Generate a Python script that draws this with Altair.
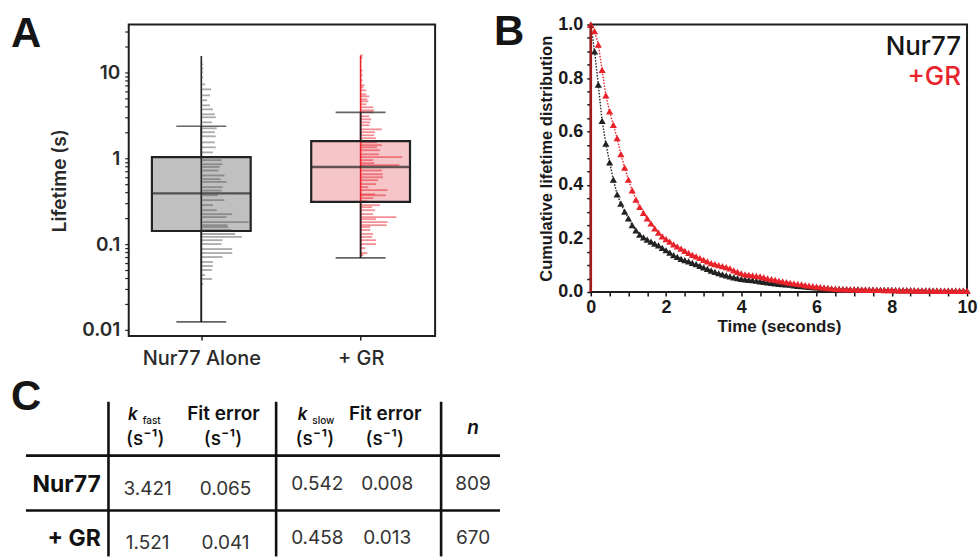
import altair as alt
import pandas as pd

# ---------------- Panel A data (lifetimes, log scale) ----------------
groups = ['Nur77 Alone', '+ GR']
group_pos = [1, 2]
q1 = [0.142, 0.31]
median = [0.39, 0.79]
q3 = [1.03, 1.58]
whisker_lo = [0.0124, 0.069]
whisker_hi = [2.36, 3.42]
data_max = [15.5, 15.8]

nur77_bins = [14.9, 13.8, 12.4, 11.1, 10.0, 8.75, 7.25, 6.35, 5.40, 4.73,
              4.13, 3.71, 3.25, 3.00, 2.62, 2.23, 2.01, 1.80, 1.53, 1.34,
              1.17, 1.03, 0.95, 0.85, 0.79, 0.72, 0.63, 0.57, 0.53, 0.46,
              0.42, 0.37, 0.325, 0.284, 0.248, 0.223, 0.206, 0.180, 0.166, 0.158,
              0.146, 0.131, 0.121, 0.111, 0.100, 0.0875, 0.0786, 0.0706, 0.0618, 0.0555,
              0.0499, 0.0436, 0.0392, 0.0343]
nur77_hist = [1, 1, 2, 2, 2, 2, 4, 10, 9, 6,
              9, 12, 14, 15, 11, 16, 14, 15, 14, 15,
              12, 18, 21, 22, 19, 18, 24, 20, 26, 22,
              21, 17, 24, 12, 16, 32, 26, 49, 27, 28,
              31, 35, 42, 22, 21, 32, 32, 22, 12, 12,
              11, 4, 11, 2]
gr_bins = [15.8, 14.9, 10.5, 9.23, 8.07, 7.06, 6.69, 6.18, 5.55, 5.26,
           4.85, 4.60, 4.25, 3.92, 3.61, 3.43, 3.08, 2.84, 2.62, 2.42,
           2.17, 2.01, 1.85, 1.71, 1.53, 1.42, 1.34, 1.24, 1.11, 1.03,
           0.95, 0.875, 0.83, 0.72, 0.65, 0.60, 0.555, 0.50, 0.46, 0.425,
           0.38, 0.37, 0.343, 0.316, 0.284, 0.269, 0.248, 0.223, 0.206, 0.195,
           0.180, 0.166, 0.158, 0.146, 0.131, 0.121, 0.111, 0.100, 0.0898, 0.0786,
           0.0745]
gr_hist = [2, 2, 2, 2, 2, 4, 3, 6, 6, 9,
           7, 8, 6, 13, 14, 13, 9, 11, 10, 9,
           22, 15, 14, 16, 17, 22, 17, 20, 19, 43,
           13, 14, 40, 22, 23, 23, 18, 16, 8, 28,
           15, 26, 13, 7, 20, 12, 15, 13, 37, 16,
           28, 27, 10, 10, 13, 12, 16, 16, 5, 7,
           3]
a_ticks = [0.01, 0.1, 1, 10]
a_tick_labels = ['0.01', '0.1', '1', '10']

# ---------------- Panel B data (cumulative lifetime distribution) ----------------
times = [round(0.1 * i, 1) for i in range(101)]
nur77_cdf = [1.000, 0.900, 0.775, 0.640, 0.555, 0.485, 0.420, 0.365, 0.330, 0.300,
             0.275, 0.250, 0.230, 0.214, 0.204, 0.196, 0.188, 0.181, 0.174, 0.165,
             0.156, 0.147, 0.138, 0.131, 0.124, 0.119, 0.114, 0.109, 0.104, 0.098,
             0.092, 0.086, 0.080, 0.075, 0.070, 0.066, 0.062, 0.058, 0.055, 0.052,
             0.049, 0.047, 0.045, 0.044, 0.042, 0.040, 0.038, 0.036, 0.034, 0.032,
             0.030, 0.029, 0.028, 0.027, 0.025, 0.023, 0.022, 0.021, 0.019, 0.018,
             0.017, 0.016, 0.015, 0.014, 0.013, 0.012, 0.012, 0.011, 0.011, 0.010,
             0.010, 0.010, 0.009, 0.009, 0.009, 0.009, 0.008, 0.008, 0.008, 0.008,
             0.008, 0.007, 0.007, 0.007, 0.007, 0.007, 0.006, 0.006, 0.006, 0.006,
             0.006, 0.005, 0.005, 0.005, 0.005, 0.005, 0.005, 0.005, 0.005, 0.005,
             0.005]
gr_cdf = [1.000, 0.975, 0.925, 0.830, 0.735, 0.675, 0.625, 0.575, 0.515, 0.465,
          0.420, 0.380, 0.345, 0.318, 0.296, 0.275, 0.256, 0.238, 0.222, 0.208,
          0.198, 0.188, 0.178, 0.170, 0.162, 0.154, 0.146, 0.139, 0.133, 0.127,
          0.120, 0.114, 0.108, 0.104, 0.100, 0.097, 0.093, 0.088, 0.081, 0.075,
          0.070, 0.066, 0.064, 0.062, 0.060, 0.058, 0.055, 0.051, 0.048, 0.045,
          0.042, 0.040, 0.037, 0.034, 0.032, 0.030, 0.028, 0.026, 0.024, 0.022,
          0.020, 0.018, 0.016, 0.014, 0.013, 0.012, 0.011, 0.011, 0.010, 0.010,
          0.010, 0.009, 0.009, 0.009, 0.008, 0.008, 0.008, 0.008, 0.007, 0.007,
          0.007, 0.007, 0.006, 0.006, 0.006, 0.006, 0.006, 0.005, 0.005, 0.005,
          0.005, 0.005, 0.005, 0.004, 0.004, 0.004, 0.004, 0.004, 0.004, 0.004,
          0.004]
series_names = ['Nur77', '+GR']

# ---------------- Panel C data (fit table) ----------------
row_labels = ['Nur77', '+ GR']
k_fast = ['3.421', '1.521']
k_fast_err = ['0.065', '0.041']
k_slow = ['0.542', '0.458']
k_slow_err = ['0.008', '0.013']
n_obs = ['809', '670']
hdr_k = ['k', 'k']
hdr_sub = ['fast', 'slow']
hdr_fit = ['Fit error', 'Fit error']
hdr_unit = '(s\u207b\u00b9)'
hdr_n = 'n'
panel_letters = ['A', 'B', 'C']

# ---------------- styles ----------------
DARK = '#222222'
RED = '#e8232b'
GRAY_FILL = '#c0c0c0'
PINK_FILL = '#f5c5c8'
HIST_COLORS = ['#555555', '#e8202a']
LINE_COLORS = [DARK, RED]
FILLS = [GRAY_FILL, PINK_FILL]
BAR_UNIT = 1.0 / 165.0
LETTER = dict(font='Liberation Sans', fontSize=42, fontWeight='bold', color='#151515',
              align='left', baseline='top')

# ================= Panel A =================
boxdf = pd.DataFrame({'group': groups, 'pos': group_pos, 'q1': q1, 'med': median,
                      'q3': q3, 'lo': whisker_lo, 'hi': whisker_hi, 'mx': data_max,
                      'fill': FILLS, 'line': LINE_COLORS})
hist = pd.concat([
    pd.DataFrame({'pos': group_pos[0], 'bin': nur77_bins, 'len': nur77_hist, 'col': HIST_COLORS[0]}),
    pd.DataFrame({'pos': group_pos[1], 'bin': gr_bins, 'len': gr_hist, 'col': HIST_COLORS[1]}),
], ignore_index=True)
hist['end'] = hist['pos'] + hist['len'] * BAR_UNIT

xa_expr = ' : '.join(f"datum.value == {p} ? '{g}'" for p, g in zip(group_pos, groups)) + " : ''"
xA_scale = alt.Scale(domain=[0.5758, 2.4364], nice=False, zero=False)
xA_axis = alt.Axis(values=group_pos, labelExpr=xa_expr, title=None, grid=False, domain=False,
                   tickSize=4, tickWidth=1.5, tickColor=DARK, labelFont='Inter',
                   labelFontSize=20, labelFontWeight=500, labelColor='#2a2a2a',
                   labelPadding=9, labelOverlap=False)

ya_ticks = sorted(set([round(m * 10 ** e, 3) for e in (-2, -1, 0) for m in range(1, 10)] + [10, 20, 30]))
ya_expr = ' : '.join(f"datum.value == {v} ? '{l}'" for v, l in zip(a_ticks, a_tick_labels)) + " : ''"
yA_scale = alt.Scale(type='log', domain=[0.00852, 36.1], nice=False)
yA_axis = alt.Axis(values=ya_ticks, labelExpr=ya_expr, title='Lifetime (s)', grid=False,
                   domain=False, tickSize=4, tickWidth=1.2, tickColor=DARK,
                   labelFont='Inter', labelFontSize=19, labelFontWeight=600,
                   labelColor='#2a2a2a', labelPadding=5, labelOverlap=False,
                   titleFont='Inter', titleFontSize=19, titleFontWeight=600,
                   titleColor='#2a2a2a', titlePadding=12)


def XA(f):
    return alt.X(f'{f}:Q', scale=xA_scale, axis=xA_axis)


def YA(f):
    return alt.Y(f'{f}:Q', scale=yA_scale, axis=yA_axis)


base = alt.Chart(boxdf)
box_fill = base.mark_bar(size=99, orient='vertical').encode(
    x=XA('pos'), y=YA('q1'), y2='q3', fill=alt.Fill('fill:N', scale=None))
range_line = base.mark_rule(strokeWidth=1.6).encode(
    x=XA('pos'), y=YA('lo'), y2='mx', color=alt.Color('line:N', scale=None))
hist_rules = alt.Chart(hist).mark_rule(strokeWidth=1.8, opacity=0.5).encode(
    x=XA('pos'), x2='end', y=YA('bin'), color=alt.Color('col:N', scale=None))
wh_low = base.mark_rule(strokeWidth=1.6, color=DARK).encode(x=XA('pos'), y=YA('lo'), y2='q1')
wh_high = base.mark_rule(strokeWidth=1.6, color=DARK).encode(x=XA('pos'), y=YA('q3'), y2='hi')
cap_lo = base.mark_tick(orient='horizontal', size=50, thickness=1.6, color=DARK).encode(
    x=XA('pos'), y=YA('lo'))
cap_hi = base.mark_tick(orient='horizontal', size=50, thickness=1.6, color=DARK).encode(
    x=XA('pos'), y=YA('hi'))
box_line = base.mark_bar(size=99, orient='vertical', fillOpacity=0, stroke=DARK,
                         strokeWidth=2.2).encode(x=XA('pos'), y=YA('q1'), y2='q3')
med_tick = base.mark_tick(orient='horizontal', size=99, thickness=2.4, color=DARK).encode(
    x=XA('pos'), y=YA('med'))
letter_a = alt.Chart(pd.DataFrame({'t': [panel_letters[0]]})).mark_text(**LETTER).encode(
    text='t:N', x=alt.value(-118), y=alt.value(-10))

A_main = alt.layer(box_fill, range_line, hist_rules, wh_low, wh_high, cap_lo, cap_hi,
                   box_line, med_tick, letter_a)

# ================= Panel C (table, drawn below panel A) =================
col_slots = list(range(11))
col_px = [-103, -28, -20.3, 19, 97, 147.7, 189, 259, 313, 345, 372]
row_slots = list(range(9))
row_px = [378, 396, 410, 421, 432, 468, 487, 523, 533]
xT = lambda f: alt.X(f'{f}:Q', scale=alt.Scale(domain=col_slots, range=col_px, nice=False, zero=False), axis=None)
yT = lambda f: alt.Y(f'{f}:Q', scale=alt.Scale(domain=row_slots, range=row_px, nice=False, zero=False), axis=None)

R1, R2 = 5, 7
vlines = pd.DataFrame({'c': [2, 5, 8], 'r1': [0, 0, 0], 'r2': [8, 8, 8]})
hlines = pd.DataFrame({'r': [4, 6], 'c1': [0, 0], 'c2': [10, 10]})
t_v = alt.Chart(vlines).mark_rule(strokeWidth=2.6, color='#111111').encode(x=xT('c'), y=yT('r1'), y2='r2')
t_h = alt.Chart(hlines).mark_rule(strokeWidth=2.6, color='#111111').encode(y=yT('r'), x=xT('c1'), x2='c2')

lab_df = pd.DataFrame({'c': [1, 1], 'r': [R1, R2], 't': row_labels})
fast_df = pd.DataFrame({'c': [3, 4, 3, 4], 'r': [R1, R1, R2, R2],
                        't': [k_fast[0], k_fast_err[0], k_fast[1], k_fast_err[1]]})
slow_df = pd.DataFrame({'c': [6, 7, 9, 6, 7, 9], 'r': [R1, R1, R1, R2, R2, R2],
                        't': [k_slow[0], k_slow_err[0], n_obs[0], k_slow[1], k_slow_err[1], n_obs[1]]})
k_df = pd.DataFrame({'c': [3, 6], 'r': [1, 1], 't': hdr_k})
sub_df = pd.DataFrame({'c': [3, 6], 'r': [1, 1], 't': hdr_sub})
fit_df = pd.DataFrame({'c': [4, 7], 'r': [1, 1], 't': hdr_fit})
unit_df = pd.DataFrame({'c': [3, 4, 6, 7], 'r': [3, 3, 3, 3], 't': [hdr_unit] * 4})
n_df = pd.DataFrame({'c': [9], 'r': [2], 't': [hdr_n]})

TF = 'Inter'
t_lab = alt.Chart(lab_df).mark_text(font=TF, fontSize=23, fontWeight=700, color='#111111',
                                    align='right', baseline='alphabetic').encode(x=xT('c'), y=yT('r'), text='t:N')
t_fast = alt.Chart(fast_df).mark_text(font=TF, fontSize=19, fontWeight=400, color='#333333',
                                      align='center', baseline='alphabetic', dy=3).encode(x=xT('c'), y=yT('r'), text='t:N')
t_slow = alt.Chart(slow_df).mark_text(font=TF, fontSize=19, fontWeight=400, color='#333333',
                                      align='center', baseline='alphabetic', dy=-2).encode(x=xT('c'), y=yT('r'), text='t:N')
t_k = alt.Chart(k_df).mark_text(font=TF, fontSize=17, fontWeight=600, fontStyle='italic', color='#111111',
                                align='right', baseline='alphabetic', dx=-10).encode(x=xT('c'), y=yT('r'), text='t:N')
t_sub = alt.Chart(sub_df).mark_text(font=TF, fontSize=10, fontWeight=500, color='#111111',
                                    align='left', baseline='alphabetic', dx=-5, dy=4).encode(x=xT('c'), y=yT('r'), text='t:N')
t_fit = alt.Chart(fit_df).mark_text(font=TF, fontSize=19, fontWeight=600, color='#111111',
                                    align='center', baseline='alphabetic', dx=-2).encode(x=xT('c'), y=yT('r'), text='t:N')
t_unit = alt.Chart(unit_df).mark_text(font=TF, fontSize=19, fontWeight=500, color='#111111',
                                      align='center', baseline='alphabetic', dx=-2.5).encode(x=xT('c'), y=yT('r'), text='t:N')
t_n = alt.Chart(n_df).mark_text(font=TF, fontSize=19, fontWeight=600, fontStyle='italic', color='#111111',
                                align='center', baseline='alphabetic').encode(x=xT('c'), y=yT('r'), text='t:N')
letter_c = alt.Chart(pd.DataFrame({'t': [panel_letters[2]]})).mark_text(**LETTER).encode(
    text='t:N', x=alt.value(-118), y=alt.value(353))

table = alt.layer(t_v, t_h, t_lab, t_fast, t_slow, t_k, t_sub, t_fit, t_unit, t_n, letter_c)

A_total = alt.layer(A_main, table).resolve_scale(x='independent', y='independent').properties(
    width=307, height=312)

# ================= Panel B =================
bdf = pd.concat([
    pd.DataFrame({'t': times, 'v': nur77_cdf, 's': series_names[0]}),
    pd.DataFrame({'t': times, 'v': gr_cdf, 's': series_names[1]}),
], ignore_index=True)

xb_vals = [i * 0.5 for i in range(21)]
yb_vals = [round(i * 0.05, 2) for i in range(21)]
AXB = dict(grid=False, domain=False, tickSize=4, tickWidth=1.5, tickColor='#111111',
           labelFont='Liberation Sans', labelFontSize=18, labelFontWeight='bold',
           labelColor='#1a1a1a', labelOverlap=False, titleFont='Liberation Sans',
           titleFontWeight='bold', titleColor='#1a1a1a')
xB = alt.X('t:Q', scale=alt.Scale(domain=[0, 10], nice=False, zero=False),
           axis=alt.Axis(values=xb_vals, labelExpr="datum.value % 2 == 0 ? format(datum.value, 'd') : ''",
                         title='Time (seconds)', titleFontSize=17, labelPadding=3, titlePadding=2,
                         labelFlush=False, **AXB))
yB = alt.Y('v:Q', scale=alt.Scale(domain=[0, 1], nice=False, zero=False),
           axis=alt.Axis(values=yb_vals,
                         labelExpr="abs(datum.value*5 - round(datum.value*5)) < 0.001 ? format(datum.value, '.1f') : ''",
                         title='Cumulative lifetime distribution', titleFontSize=16.5,
                         labelPadding=4, titlePadding=3, labelFlush=False, **AXB))
ser_color = alt.Color('s:N', scale=alt.Scale(domain=series_names, range=LINE_COLORS), legend=None)

b_lines = alt.Chart(bdf).mark_line(strokeDash=[1.5, 1.5], strokeWidth=1.4).encode(
    x=xB, y=yB, color=ser_color, detail='s:N')
b_pts = alt.Chart(bdf).mark_point(shape='triangle-up', filled=True, size=52, opacity=1).encode(
    x=xB, y=yB, color=ser_color)
start_df = pd.DataFrame({'t': [times[0]], 'v': [0.0], 'v2': [gr_cdf[0]]})
b_start = alt.Chart(start_df).mark_rule(strokeWidth=2.6, color='#a01c1c').encode(x=xB, y=yB, y2='v2')
leg1 = alt.Chart(pd.DataFrame({'t': [series_names[0]]})).mark_text(
    font='Inter', fontSize=26, fontWeight=500, color='#151515', align='right', baseline='alphabetic').encode(
    text='t:N', x=alt.value(371), y=alt.value(31))
leg2 = alt.Chart(pd.DataFrame({'t': [series_names[1]]})).mark_text(
    font='Inter', fontSize=26, fontWeight=500, color=RED, align='right', baseline='alphabetic').encode(
    text='t:N', x=alt.value(371), y=alt.value(61))
letter_b = alt.Chart(pd.DataFrame({'t': [panel_letters[1]]})).mark_text(**LETTER).encode(
    text='t:N', x=alt.value(-97), y=alt.value(-12))

B_total = alt.layer(b_lines, b_pts, b_start, leg1, leg2, letter_b).properties(width=377, height=268)

chart = alt.hconcat(A_total, B_total, spacing=156, bounds='flush').properties(
    padding={'left': 10, 'top': 10, 'right': 0, 'bottom': 0}
).configure_view(stroke='#1e1e1e', strokeWidth=2)

chart.save('out.html', embed_options={'renderer': 'svg', 'actions': False})
